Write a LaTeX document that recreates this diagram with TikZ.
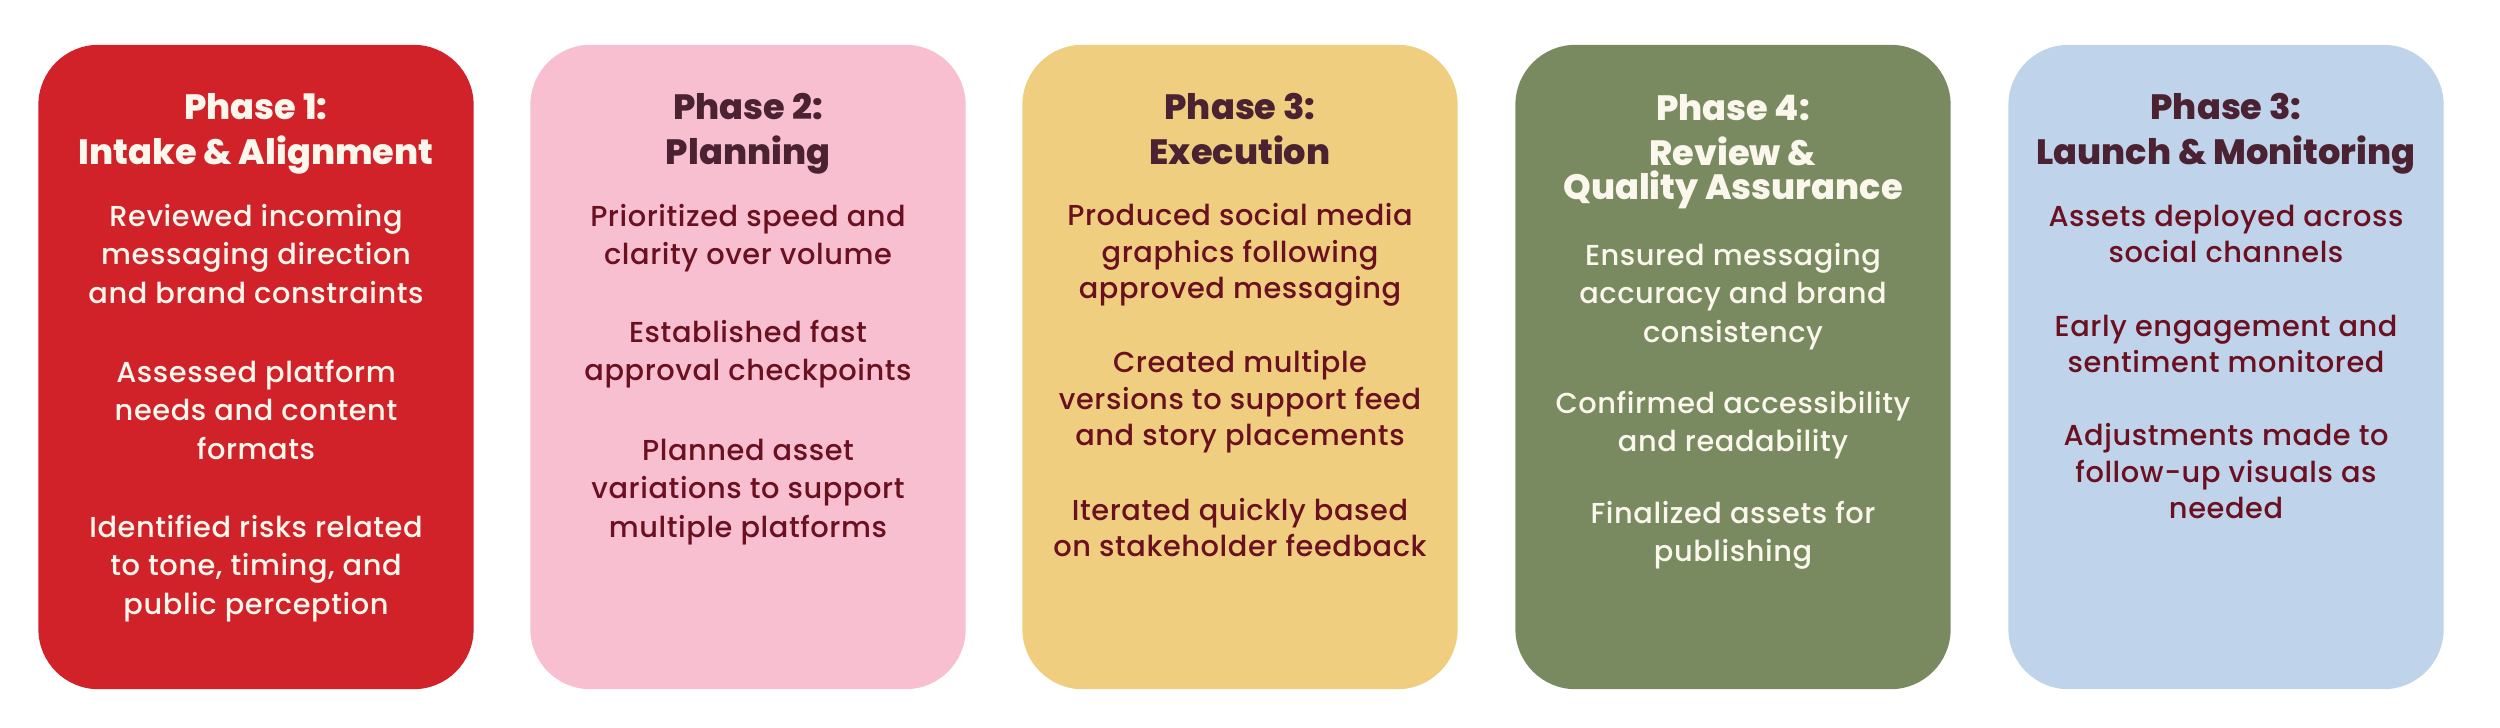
\documentclass[tikz,border=0pt]{standalone}
\usepackage{fontspec}
\setmainfont{Poppins}
\newfontfamily\phasebodyfont{Poppins Medium}[LetterSpace=2]
\newfontfamily\phasetitlefont{Poppins ExtraBold}
\usetikzlibrary{positioning}

\definecolor{redbox}{HTML}{D12129}
\definecolor{pinkbox}{HTML}{F7BFD0}
\definecolor{yellowbox}{HTML}{EFCF7F}
\definecolor{greenbox}{HTML}{798A61}
\definecolor{bluebox}{HTML}{BFD3EA}
\definecolor{titledark}{HTML}{4B2231}
\definecolor{bodydark}{HTML}{6A1020}
\definecolor{cream}{HTML}{FBF7EC}

\begin{document}
\begin{tikzpicture}[x=0.01cm, y=-0.01cm,
    phasebox/.style={minimum width=4.35cm, minimum height=6.44cm,
        rounded corners=0.6cm, inner sep=0pt},
    phasetitle/.style={align=center, inner sep=0pt,
        font=\phasetitlefont\fontsize{10}{12.7}\selectfont},
    phasetext/.style={align=center, inner sep=0pt,
        font=\phasebodyfont\fontsize{8.2}{10.9}\selectfont},
    phasetight/.style={phasetext,
        font=\phasebodyfont\fontsize{8.2}{10.4}\selectfont}]
    \useasboundingbox (0,0) rectangle (2500,727);

    \node[phasebox, fill=redbox]    (box1) at (256,367) {};
    \node[phasebox, fill=pinkbox]   (box2) at (748,367) {};
    \node[phasebox, fill=yellowbox] (box3) at (1240,367) {};
    \node[phasebox, fill=greenbox]  (box4) at (1733,367) {};
    \node[phasebox, fill=bluebox]   (box5) at (2226,367) {};

    % phase 1
    \node[phasetitle, text=cream] (title1) at (256,133)
        {\strut Phase 1:\\Intake \& Alignment\strut};
    \node[phasetext, text=cream] (text1a) at (256,257)
        {\strut Reviewed incoming\\messaging direction\\and brand constraints\strut};
    \node[phasetext, text=cream] (text1b) at (256,413)
        {\strut Assessed platform\\needs and content\\formats\strut};
    \node[phasetext, text=cream] (text1c) at (256,568)
        {\strut Identified risks related\\to tone, timing, and\\public perception\strut};

    % phase 2
    \node[phasetitle, text=titledark] (title2) at (748,133)
        {\strut Phase 2:\\Planning\strut};
    \node[phasetext, text=bodydark] (text2a) at (748,238)
        {\strut Prioritized speed and\\clarity over volume\strut};
    \node[phasetext, text=bodydark] (text2b) at (748,354)
        {\strut Established fast\\approval checkpoints\strut};
    \node[phasetext, text=bodydark] (text2c) at (748,491)
        {\strut Planned asset\\variations to support\\multiple platforms\strut};

    % phase 3
    \node[phasetitle, text=titledark] (title3) at (1240,133)
        {\strut Phase 3:\\Execution\strut};
    \node[phasetight, text=bodydark] (text3a) at (1240,255)
        {\strut Produced social media\\graphics following\\approved messaging\strut};
    \node[phasetight, text=bodydark] (text3b) at (1240,402)
        {\strut Created multiple\\versions to support feed\\and story placements\strut};
    \node[phasetight, text=bodydark] (text3c) at (1240,531)
        {\strut Iterated quickly based\\on stakeholder feedback\strut};

    % phase 4
    \node[phasetitle, text=cream] (title4) at (1733,151)
        {\strut Phase 4:\\Review \&\\[-3pt]Quality Assurance\strut};
    \node[phasetext, text=cream] (text4a) at (1733,296)
        {\strut Ensured messaging\\accuracy and brand\\consistency\strut};
    \node[phasetext, text=cream] (text4b) at (1733,425)
        {\strut Confirmed accessibility\\and readability\strut};
    \node[phasetext, text=cream] (text4c) at (1733,535)
        {\strut Finalized assets for\\publishing\strut};

    % phase 5
    \node[phasetitle, text=titledark] (title5) at (2226,133)
        {\strut Phase 3:\\Launch \& Monitoring\strut};
    \node[phasetight, text=bodydark] (text5a) at (2226,237)
        {\strut Assets deployed across\\social channels\strut};
    \node[phasetight, text=bodydark] (text5b) at (2226,347)
        {\strut Early engagement and\\sentiment monitored\strut};
    \node[phasetight, text=bodydark] (text5c) at (2226,475)
        {\strut Adjustments made to\\follow-up visuals as\\needed\strut};
\end{tikzpicture}
\end{document}
